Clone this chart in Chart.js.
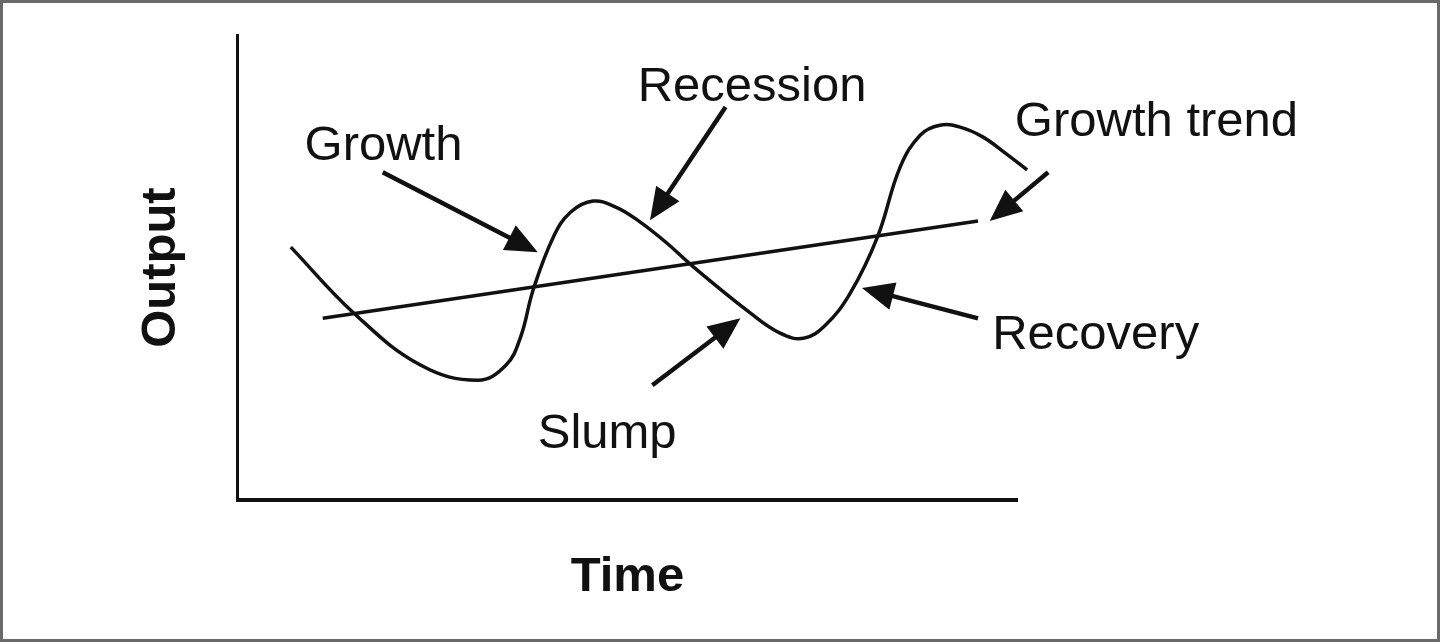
<!DOCTYPE html>
<html>
<head>
<meta charset="utf-8">
<script src="https://cdn.jsdelivr.net/npm/chart.js@4.4.1/dist/chart.umd.min.js"></script>
<style>
  html, body { margin: 0; padding: 0; background: #fff; }
  #grafik { display: block; outline: 3px solid #6a6a6a; outline-offset: -3px; }
</style>
</head>
<body>
<canvas id="grafik" width="1440" height="642"></canvas>
<script>
// Kurva siklus bisnis (perkiraan)
const curveX = [6.8, 14.9, 23.5, 30.8, 34.4, 36.3, 37.9, 40.5, 42.7, 45.6, 48.5, 51.3, 54.9, 58.5, 65.8, 69.6, 72.6, 75.4, 78.6, 82.1, 85.0, 87.6, 90.1, 92.7, 95.6, 98.5, 101.3];
const curveY = [54.4, 40.2, 29.0, 25.8, 29.0, 35.1, 45.2, 56.6, 61.9, 64.3, 63.0, 60.2, 55.5, 50.1, 40.2, 35.9, 34.8, 37.6, 44.5, 56.6, 71.6, 78.5, 80.6, 80.2, 78.1, 74.6, 71.0];

// Garis tren pertumbuhan
const trendX = [10.9, 95.0];
const trendY = [39.1, 60.0];

// Keterangan: teks, posisi teks, pangkal panah dan ujung panah (koordinat data)
const labelText = ['Growth', 'Recession', 'Growth trend', 'Recovery', 'Slump'];
const annotations = [
    { text: labelText[0], at: [18.7, 76.0], from: [18.6, 70.5], to: [38.5, 53.3] },
    { text: labelText[1], at: [66.0, 88.7], from: [62.6, 84.5], to: [52.9, 60.2] },
    { text: labelText[2], at: [117.9, 81.3], from: [104.0, 70.5], to: [96.5, 60.0] },
    { text: labelText[3], at: [110.1, 35.4], from: [95.0, 39.1], to: [80.1, 45.6] },
    { text: labelText[4], at: [47.4, 14.2], from: [53.2, 24.7], to: [64.5, 39.1] }
];

const ink = '#111';

const keteranganPlugin = {
    id: 'keterangan',
    afterDatasetsDraw(chart) {
        const ctx = chart.ctx;
        const sx = chart.scales.x;
        const sy = chart.scales.y;
        ctx.save();
        ctx.strokeStyle = ink;
        ctx.fillStyle = ink;
        annotations.forEach(a => {
            const x1 = sx.getPixelForValue(a.from[0]);
            const y1 = sy.getPixelForValue(a.from[1]);
            const x2 = sx.getPixelForValue(a.to[0]);
            const y2 = sy.getPixelForValue(a.to[1]);
            const len = Math.hypot(x2 - x1, y2 - y1);
            const ux = (x2 - x1) / len, uy = (y2 - y1) / len;
            const head = 32, half = 14;
            const bx = x2 - ux * head, by = y2 - uy * head;
            ctx.lineWidth = 4.5;
            ctx.beginPath();
            ctx.moveTo(x1, y1);
            ctx.lineTo(bx + ux * 4, by + uy * 4);
            ctx.stroke();
            ctx.beginPath();
            ctx.moveTo(x2, y2);
            ctx.lineTo(bx - uy * half, by + ux * half);
            ctx.lineTo(bx + uy * half, by - ux * half);
            ctx.closePath();
            ctx.fill();

            ctx.font = '49px "Liberation Sans", Arial, sans-serif';
            ctx.textAlign = 'center';
            ctx.textBaseline = 'middle';
            ctx.fillText(a.text, sx.getPixelForValue(a.at[0]), sy.getPixelForValue(a.at[1]));
        });
        ctx.restore();
    }
};

const ctxGrafik = document.getElementById('grafik').getContext('2d');
const grafik = new Chart(ctxGrafik, {
    type: 'line',
    data: {
        datasets: [{
            label: 'Output',
            data: curveX.map((x, i) => ({ x: x, y: curveY[i] })),
            borderColor: ink,
            borderWidth: 3.5,
            pointRadius: 0,
            tension: 0.4,
            clip: false
        }, {
            label: 'Growth trend',
            data: trendX.map((x, i) => ({ x: x, y: trendY[i] })),
            borderColor: ink,
            borderWidth: 3.5,
            pointRadius: 0,
            tension: 0,
            clip: false
        }]
    },
    options: {
        responsive: false,
        animation: false,
        devicePixelRatio: 1,
        layout: {
            padding: { left: 132, right: 423, top: 35, bottom: 0 }
        },
        plugins: {
            legend: { display: false },
            tooltip: { enabled: false }
        },
        scales: {
            x: {
                type: 'linear',
                min: 0,
                max: 100,
                ticks: { display: false },
                grid: { display: false, drawTicks: false },
                border: { display: true, color: ink, width: 4 },
                title: {
                    display: true,
                    text: 'Time',
                    color: ink,
                    font: { family: '"Liberation Sans", Arial, sans-serif', size: 49, weight: 'bold' },
                    padding: { top: 48, bottom: 35 }
                }
            },
            y: {
                type: 'linear',
                min: 0,
                max: 100,
                ticks: { display: false },
                grid: { display: false, drawTicks: false },
                border: { display: true, color: ink, width: 3 },
                title: {
                    display: true,
                    text: 'Output',
                    color: ink,
                    font: { family: '"Liberation Sans", Arial, sans-serif', size: 49, weight: 'bold' },
                    padding: { top: 0, bottom: 47 }
                }
            }
        }
    },
    plugins: [keteranganPlugin]
});
</script>
</body>
</html>
